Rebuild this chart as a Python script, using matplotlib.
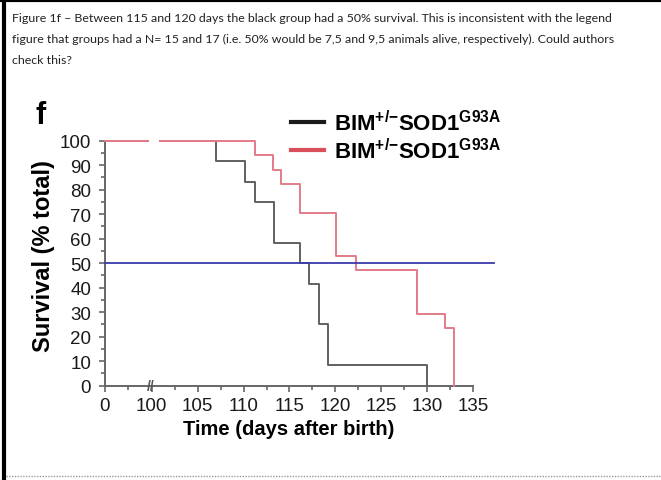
import numpy as np
import matplotlib
matplotlib.use("Agg")
import matplotlib.pyplot as plt
from matplotlib.lines import Line2D

plt.rcParams['font.family'] = ['Liberation Sans', 'DejaVu Sans']
plt.rcParams['mathtext.fontset'] = 'custom'
plt.rcParams['mathtext.rm'] = 'Liberation Sans'
plt.rcParams['mathtext.bf'] = 'Liberation Sans:bold'

# Kaplan-Meier steps (day, % alive)
black_days = [0, 107.0, 110.2, 111.2, 113.3, 116.1, 117.1, 118.2, 119.2, 130.0]
black_surv = [100, 91.7, 83.3, 75.0, 58.3, 50.0, 41.7, 25.0, 8.3, 0]
red_days = [0, 111.2, 113.2, 114.1, 116.1, 120.1, 122.2, 128.9, 132.0, 132.9]
red_surv = [100, 94.1, 88.2, 82.4, 70.6, 52.9, 47.1, 29.4, 23.5, 0]
half_line = 50

x_ticks = [0, 100, 105, 110, 115, 120, 125, 130, 135]
x_minor = [50, 102.5, 107.5, 112.5, 117.5, 122.5, 127.5, 132.5]
y_ticks = list(range(0, 101, 10))
legend_label = r"BIM$^{\mathbf{+/{-}}}$SOD1$^{\mathbf{G93A}}$"

note_lines = [
    "Figure 1f \u2013 Between 115 and 120 days the black group had a 50% survival. This is inconsistent with the legend",
    "figure that groups had a N= 15 and 17 (i.e. 50% would be 7,5 and 9,5 animals alive, respectively). Could authors",
    "check this?",
]


# broken x axis: 0..100 squeezed, then linear days
def fwd(x):
    x = np.asarray(x, dtype=float)
    return np.where(x <= 100, x * 0.051, x - 94.9)


def inv(y):
    y = np.asarray(y, dtype=float)
    return np.where(y <= 5.1, y / 0.051, y + 94.9)


fig = plt.figure(figsize=(6.61, 4.81), dpi=100)
ax = fig.add_axes([105 / 661, 1 - 386.7 / 481, 368 / 661, 245 / 481])
ax.set_xscale('function', functions=(fwd, inv))

black = '#606060'
red = '#e27c88'
ax.step(black_days, black_surv, where='post', color=black, lw=1.4, clip_on=False, zorder=3)
ax.step(red_days, red_surv, where='post', color=red, lw=1.4, clip_on=False, zorder=4)
ax.plot([0, 137.3], [half_line, half_line], color='#3a3aaa', lw=1.3, clip_on=False, zorder=5)

# gap in the top line at the axis break
ax.axvspan(94, 100.8, ymin=0.97, ymax=1.03, color='white', zorder=6, clip_on=False, lw=0)

ax.set_xlim(0, 135)
ax.set_ylim(0, 100)
ax.set_xticks(x_ticks)
ax.set_xticks(x_minor, minor=True)
ax.set_yticks(y_ticks)
ax.set_yticks(list(range(5, 100, 10)), minor=True)
ax.tick_params(axis='both', which='both', direction='out', color='#666666', width=1.2,
               labelsize=13.5, labelcolor='#1a1a1a')
ax.tick_params(which='major', length=4)
ax.tick_params(axis='y', which='major', pad=6)
ax.tick_params(axis='x', which='major', pad=4)
ax.tick_params(which='minor', length=3)
for side in ['top', 'right']:
    ax.spines[side].set_visible(False)
for side in ['left', 'bottom']:
    ax.spines[side].set_color('#666666')
    ax.spines[side].set_linewidth(1.4)

ax.text(97.5, 0, '//', ha='center', va='center', fontsize=10, color='#555555',
        fontweight='bold', zorder=7, clip_on=False)

ax.set_xlabel('Time (days after birth)', fontsize=14.5, fontweight='bold', labelpad=4)
ax.set_ylabel('Survival (% total)', fontsize=17, fontweight='bold')
ax.yaxis.set_label_coords(-0.135, 0.533)

handles = [Line2D([], [], color='#1a1a1a', lw=3), Line2D([], [], color='#d9505c', lw=3)]
fig.legend(handles, [legend_label, legend_label], loc='upper left',
           bbox_to_anchor=(291 / 661, 1 - 111 / 481), bbox_transform=fig.transFigure,
           frameon=False, borderpad=0, borderaxespad=0, handlelength=1.5,
           handletextpad=0.45, labelspacing=0.12,
           prop={'size': 16, 'weight': 'bold'})

fig.text(35 / 661, 1 - 116 / 481, 'f', fontsize=22, fontweight='bold', va='center')

for i, line in enumerate(note_lines):
    fig.text(12 / 661, 1 - (18 + 21.5 * i) / 481, line, fontsize=8.9,
             family='Lato', va='center', color='#222222')

# page frame
fig.add_artist(Line2D([4 / 661, 4 / 661], [0, 1], color='black', lw=3, transform=fig.transFigure))
fig.add_artist(Line2D([0, 1], [1 - 1 / 481, 1 - 1 / 481], color='black', lw=3, transform=fig.transFigure))
fig.add_artist(Line2D([6 / 661, 1], [1 - 477 / 481] * 2, color='#999999', lw=1,
                      ls=(0, (1, 1)), transform=fig.transFigure))

fig.savefig('out.png', dpi=100)
